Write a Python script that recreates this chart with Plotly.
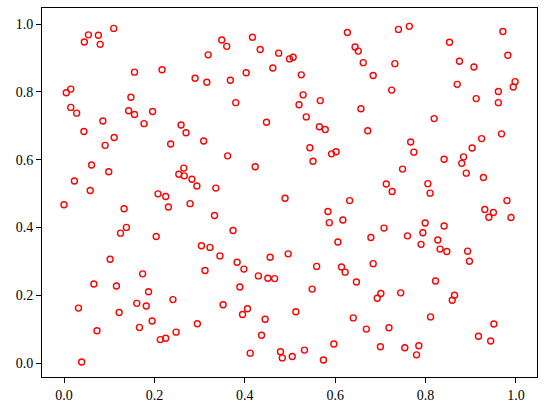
import plotly.graph_objects as go

x_vals = [
    0.110, 0.054, 0.076, 0.045, 0.080, 0.319, 0.156, 0.217, 0.290, 0.316,
    0.005, 0.015, 0.148, 0.015, 0.028, 0.143, 0.156, 0.196, 0.086, 0.177,
    0.259, 0.044, 0.270, 0.111,
    0.349, 0.360, 0.417, 0.434, 0.475, 0.499, 0.507, 0.462, 0.403, 0.368,
    0.525, 0.529, 0.520, 0.567, 0.380, 0.536, 0.448, 0.565, 0.578, 0.627,
    0.644, 0.651, 0.662, 0.684, 0.657, 0.672,
    0.740, 0.764, 0.971, 0.853, 0.732, 0.875, 0.907, 0.982, 0.870, 0.725,
    0.961, 0.998, 0.994, 0.912, 0.961, 0.819, 0.968,
    0.091, 0.236, 0.309, 0.061, 0.099, 0.023, 0.058, 0.265, 0.254, 0.266,
    0.283, 0.294, 0.208, 0.225, 0.231, 0.279, 0.000, 0.133, 0.138, 0.125,
    0.204, 0.304, 0.323,
    0.362, 0.423, 0.544, 0.592, 0.602, 0.551, 0.336, 0.489, 0.632, 0.333,
    0.584, 0.587, 0.617, 0.374, 0.606, 0.679,
    0.767, 0.774, 0.924, 0.903, 0.841, 0.884, 0.880, 0.890, 0.928, 0.749,
    0.713, 0.726, 0.805, 0.810, 0.980, 0.931, 0.950, 0.940, 0.989, 0.799,
    0.841, 0.794, 0.708, 0.760, 0.827, 0.790, 0.832, 0.847, 0.893,
    0.102, 0.174, 0.312, 0.066, 0.116, 0.187, 0.161, 0.182, 0.241, 0.032,
    0.122, 0.195, 0.295, 0.073, 0.167, 0.248, 0.213, 0.225, 0.039,
    0.345, 0.383, 0.398, 0.456, 0.496, 0.430, 0.451, 0.466, 0.559, 0.614,
    0.622, 0.684, 0.647, 0.389, 0.549, 0.352, 0.406, 0.395, 0.513, 0.445,
    0.640, 0.669, 0.437, 0.597, 0.412, 0.479, 0.483, 0.505, 0.532, 0.574,
    0.897, 0.822, 0.693, 0.701, 0.745, 0.864, 0.859, 0.811, 0.719, 0.951,
    0.917, 0.944, 0.700, 0.754, 0.785, 0.780,
]

y_vals = [
    0.987, 0.968, 0.967, 0.947, 0.940, 0.909, 0.858, 0.865, 0.840, 0.828,
    0.797, 0.808, 0.784, 0.754, 0.737, 0.744, 0.733, 0.742, 0.714, 0.706,
    0.702, 0.683, 0.679, 0.665,
    0.953, 0.934, 0.961, 0.925, 0.914, 0.897, 0.902, 0.870, 0.856, 0.834,
    0.850, 0.791, 0.762, 0.774, 0.768, 0.726, 0.710, 0.697, 0.689, 0.975,
    0.932, 0.920, 0.886, 0.848, 0.750, 0.685,
    0.984, 0.993, 0.978, 0.946, 0.883, 0.890, 0.873, 0.908, 0.822, 0.805,
    0.801, 0.830, 0.814, 0.780, 0.768, 0.721, 0.676,
    0.642, 0.646, 0.655, 0.584, 0.564, 0.537, 0.509, 0.575, 0.557, 0.552,
    0.542, 0.522, 0.499, 0.491, 0.460, 0.470, 0.467, 0.455, 0.400, 0.383,
    0.373, 0.346, 0.341,
    0.611, 0.579, 0.635, 0.617, 0.623, 0.595, 0.516, 0.486, 0.479, 0.435,
    0.447, 0.414, 0.422, 0.391, 0.357, 0.370,
    0.652, 0.622, 0.662, 0.634, 0.601, 0.608, 0.589, 0.560, 0.547, 0.572,
    0.528, 0.506, 0.529, 0.501, 0.479, 0.453, 0.444, 0.430, 0.429, 0.413,
    0.404, 0.384, 0.398, 0.375, 0.363, 0.350, 0.336, 0.329, 0.330,
    0.306, 0.263, 0.273, 0.233, 0.227, 0.210, 0.176, 0.168, 0.187, 0.162,
    0.149, 0.124, 0.116, 0.095, 0.105, 0.091, 0.069, 0.073, 0.003,
    0.316, 0.297, 0.277, 0.312, 0.322, 0.257, 0.250, 0.249, 0.285, 0.283,
    0.268, 0.293, 0.239, 0.224, 0.218, 0.172, 0.160, 0.143, 0.151, 0.129,
    0.133, 0.100, 0.082, 0.056, 0.029, 0.033, 0.015, 0.019, 0.038, 0.009,
    0.300, 0.242, 0.191, 0.205, 0.207, 0.200, 0.185, 0.136, 0.104, 0.115,
    0.079, 0.065, 0.048, 0.045, 0.051, 0.024,
]

tick_vals = [0.0, 0.2, 0.4, 0.6, 0.8, 1.0]
tick_text = ["0.0", "0.2", "0.4", "0.6", "0.8", "1.0"]

fig = go.Figure(
    go.Scatter(
        x=x_vals,
        y=y_vals,
        mode="markers",
        marker=dict(symbol="circle-open", size=6, color="red", line=dict(width=1.4, color="red")),
        showlegend=False,
        hoverinfo="skip",
    )
)

axis_common = dict(
    showgrid=False,
    zeroline=False,
    showline=True,
    mirror=True,
    linecolor="black",
    linewidth=1.1,
    ticks="outside",
    ticklen=5,
    tickwidth=1.1,
    tickcolor="black",
    tickvals=tick_vals,
    ticktext=tick_text,
    tickfont=dict(family="Liberation Serif, DejaVu Serif, serif", size=14, color="black"),
)

fig.update_xaxes(range=[-0.0487, 1.0465], **axis_common)
fig.update_yaxes(range=[-0.0413, 1.0472], **axis_common)

fig.update_layout(
    width=547,
    height=413,
    margin=dict(l=42, r=10, t=8, b=36),
    plot_bgcolor="white",
    paper_bgcolor="white",
)

fig.write_html(
    "out.html",
    config={"displayModeBar": False},
    post_script="document.body.style.margin='0';document.body.style.overflow='hidden';",
)
